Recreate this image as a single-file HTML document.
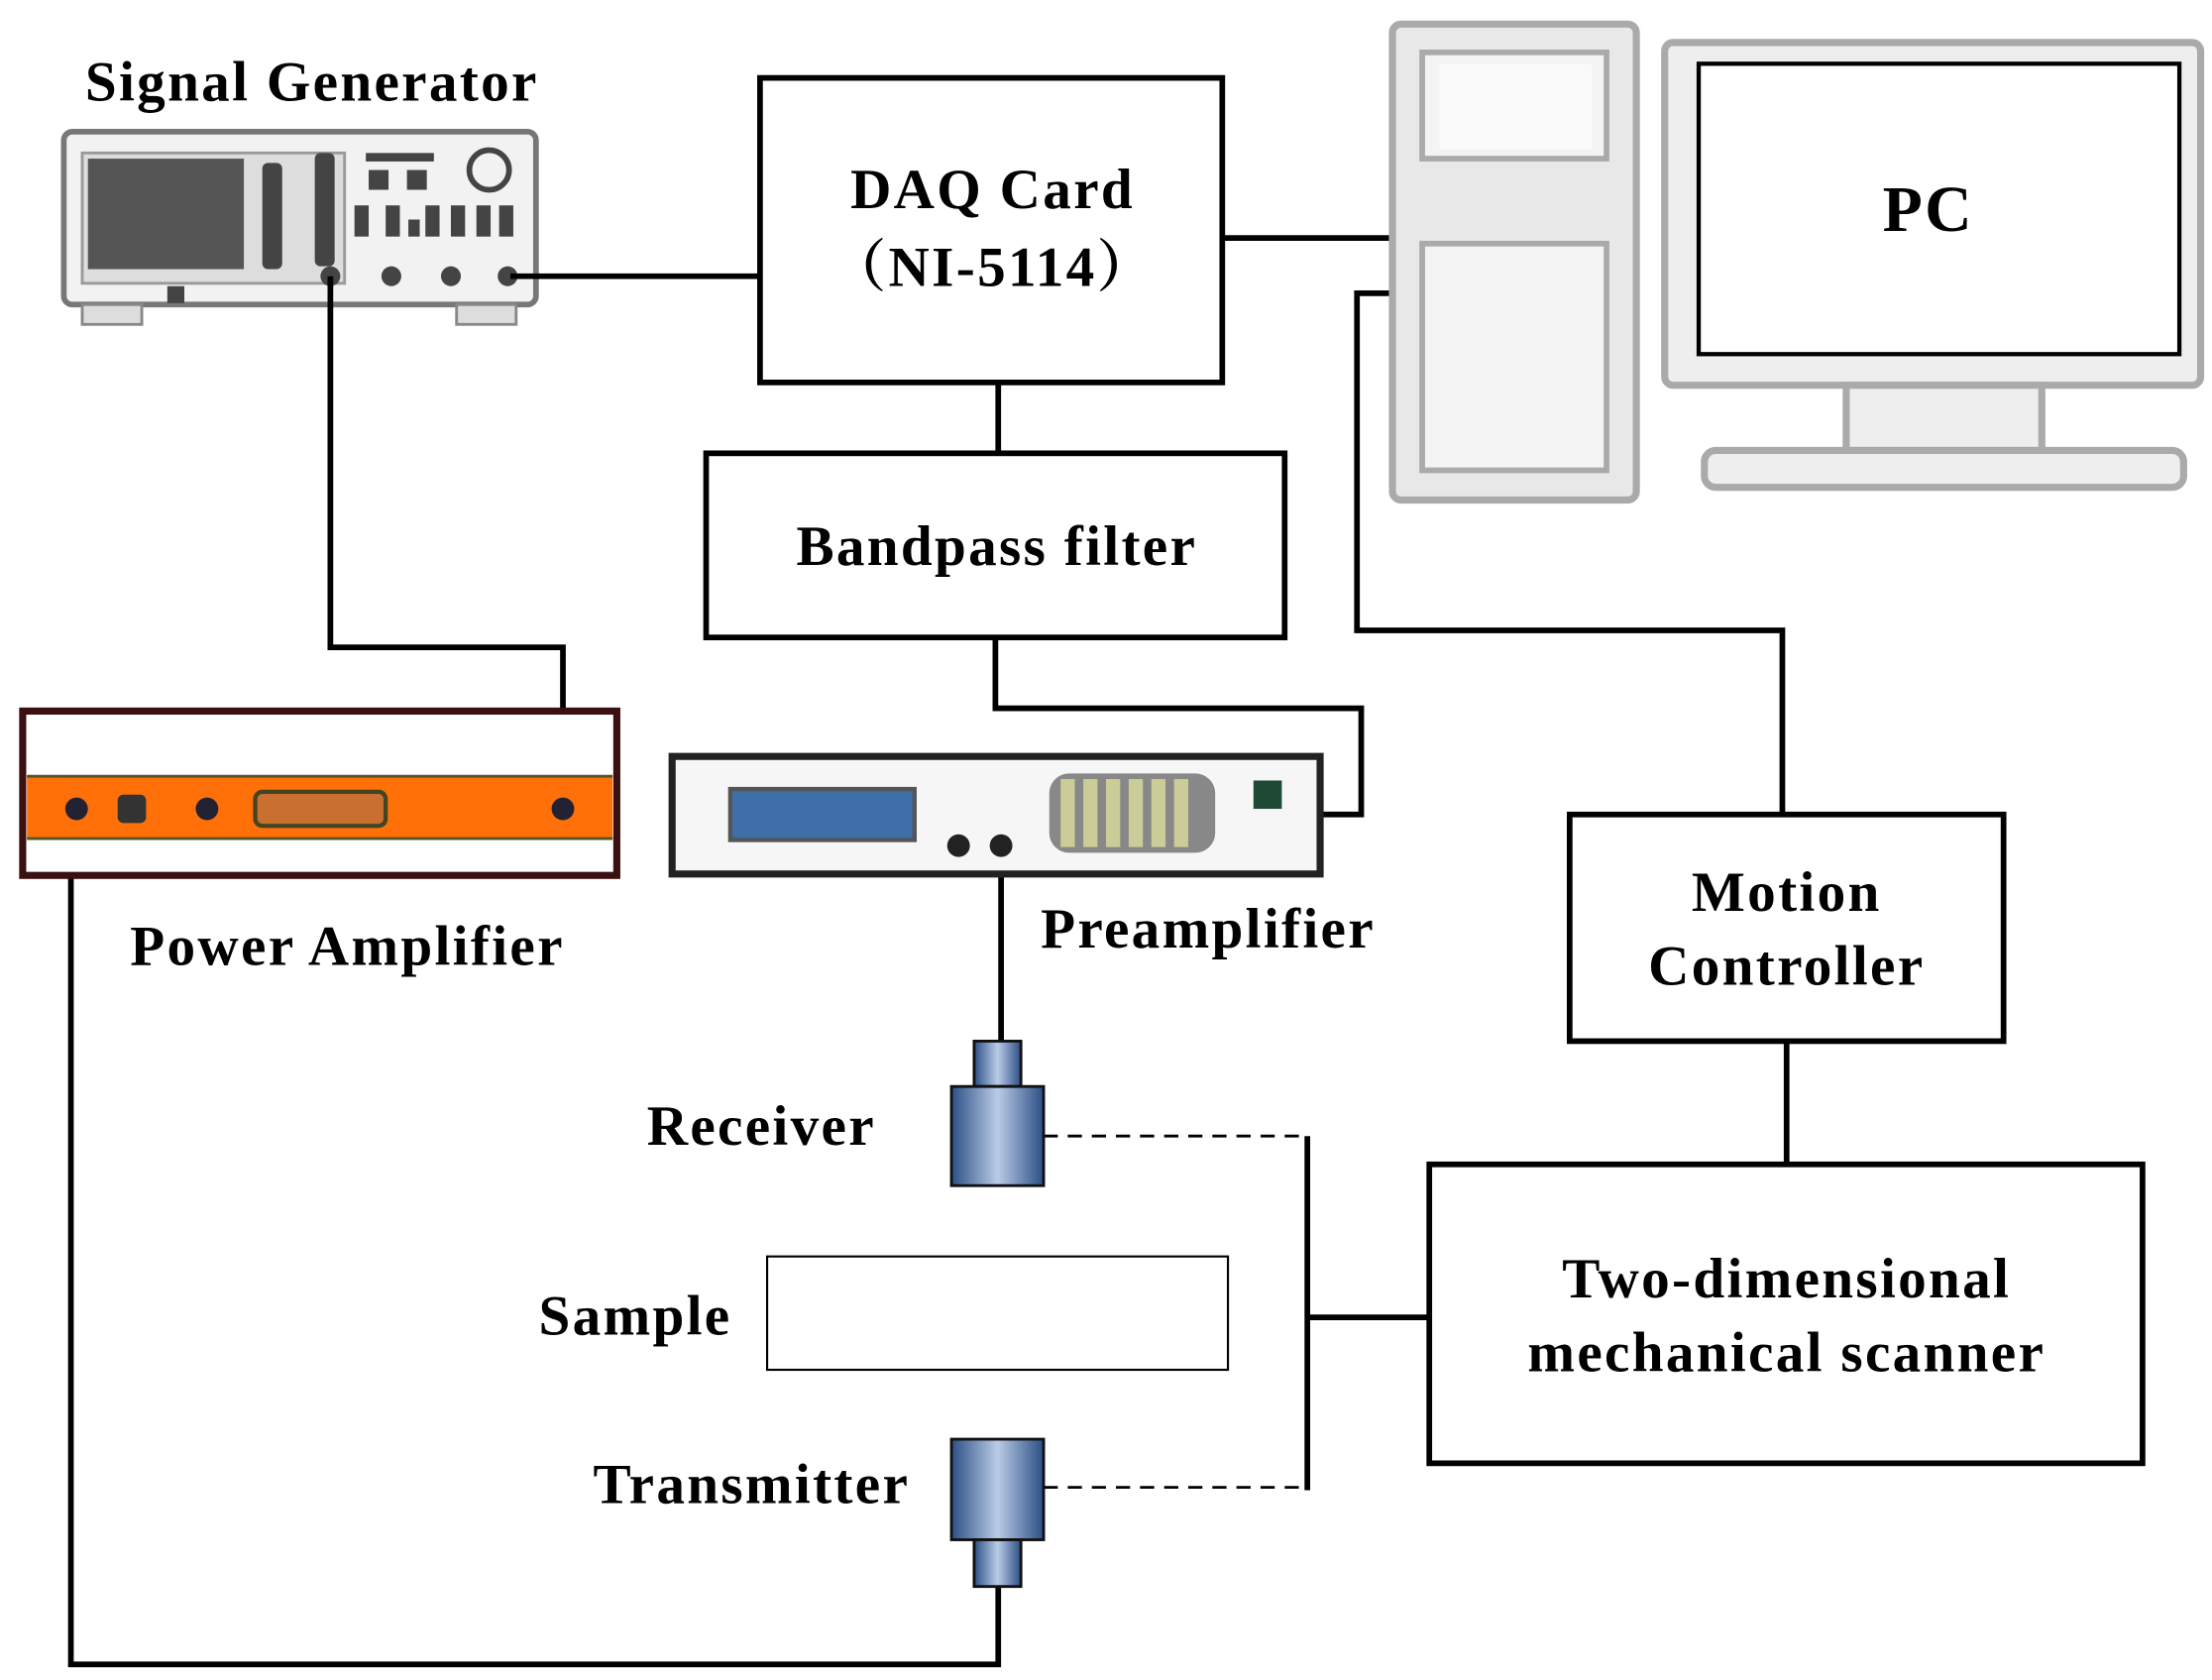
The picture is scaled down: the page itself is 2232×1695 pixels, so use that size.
<!DOCTYPE html>
<html><head><meta charset="utf-8"><style>
html,body{margin:0;padding:0;background:#fff;}
svg{display:block;}
text{font-family:"Liberation Serif","Noto Serif CJK SC",serif;font-weight:bold;fill:#000;text-anchor:middle;letter-spacing:1.6px;}
</style></head><body>
<svg width="2232" height="1695" viewBox="0 0 1560 1186" preserveAspectRatio="none" xmlns="http://www.w3.org/2000/svg">
<defs>
<linearGradient id="cyl" x1="0" x2="1" y1="0" y2="0">
<stop offset="0" stop-color="#2c4f86"/><stop offset="0.5" stop-color="#b9cbe6"/><stop offset="1" stop-color="#2c4f86"/>
</linearGradient>
</defs>
<text x="220" y="71" font-size="40">Signal Generator</text>
<rect x="45" y="93" width="333" height="122" rx="6" fill="#f2f2f2" stroke="#777" stroke-width="4"/>
<rect x="58" y="108" width="185" height="92" fill="#ddd" stroke="#999" stroke-width="2"/>
<rect x="62" y="112" width="110" height="78" fill="#555"/>
<g fill="#444">
<rect x="185" y="115" width="14" height="75" rx="4"/>
<rect x="222" y="108" width="14" height="80" rx="4"/>
<rect x="258" y="108" width="48" height="6"/>
<rect x="260" y="120" width="14" height="14"/><rect x="287" y="120" width="14" height="14"/>
<rect x="250" y="145" width="10" height="22"/><rect x="272" y="145" width="10" height="22"/><rect x="288" y="155" width="8" height="12"/>
<rect x="300" y="145" width="10" height="22"/><rect x="318" y="145" width="10" height="22"/><rect x="336" y="145" width="10" height="22"/><rect x="352" y="145" width="10" height="22"/>
<circle cx="233" cy="195" r="7"/><circle cx="276" cy="195" r="7"/><circle cx="318" cy="195" r="7"/><circle cx="358" cy="195" r="7"/>
<rect x="118" y="202" width="12" height="12"/>
</g>
<circle cx="345" cy="120" r="14" fill="none" stroke="#444" stroke-width="4"/>
<rect x="58" y="215" width="42" height="14" fill="#ddd" stroke="#888" stroke-width="2"/>
<rect x="322" y="215" width="42" height="14" fill="#ddd" stroke="#888" stroke-width="2"/>
<g fill="none" stroke="#000" stroke-width="4">
<rect x="536" y="55" width="326" height="215"/>
<rect x="498" y="320" width="408" height="130"/>
<rect x="1107" y="575" width="306" height="160"/>
<rect x="1008" y="822" width="503" height="211"/>
<polyline points="360,195 536,195"/>
<polyline points="862,168 982,168"/>
<polyline points="982,207 957,207 957,445 1257,445 1257,575"/>
<polyline points="704,270 704,320"/>
<polyline points="702,450 702,500 960,500 960,575 932,575"/>
<polyline points="233,195 233,457 397,457 397,570"/>
<polyline points="50,570 50,1175 704,1175 704,1120"/>
<polyline points="706,597 706,735"/>
<polyline points="1260,735 1260,822"/>
<polyline points="922,802 922,1052"/>
<polyline points="922,930 1008,930"/>
</g>
<g fill="none" stroke="#000" stroke-width="2" stroke-dasharray="10,7">
<line x1="736" y1="802" x2="922" y2="802"/>
<line x1="736" y1="1050" x2="922" y2="1050"/>
</g>
<text x="700" y="147" font-size="40">DAQ Card</text>
<text x="700" y="202" font-size="40">（NI-5114）</text>
<text x="703" y="399" font-size="40">Bandpass filter</text>
<text x="1260" y="643" font-size="40">Motion</text>
<text x="1260" y="695" font-size="40">Controller</text>
<text x="1260" y="916" font-size="40">Two-dimensional</text>
<text x="1260" y="968" font-size="40">mechanical scanner</text>
<rect x="982" y="17" width="172" height="336" rx="6" fill="#e8e8e8" stroke="#aaa" stroke-width="5"/>
<rect x="1003" y="37" width="130" height="75" fill="#f4f4f4" stroke="#aaa" stroke-width="4"/>
<rect x="1003" y="172" width="130" height="160" fill="#f4f4f4" stroke="#aaa" stroke-width="4"/>
<rect x="1015" y="45" width="108" height="60" fill="#fafafa"/>
<rect x="1174" y="30" width="378" height="242" rx="6" fill="#eee" stroke="#aaa" stroke-width="5"/>
<rect x="1198" y="45" width="339" height="205" fill="#fff" stroke="#000" stroke-width="3"/>
<rect x="1302" y="272" width="138" height="46" fill="#eee" stroke="#aaa" stroke-width="5"/>
<rect x="1202" y="318" width="338" height="26" rx="8" fill="#eee" stroke="#aaa" stroke-width="5"/>
<text x="1360" y="163" font-size="46">PC</text>
<rect x="16" y="502" width="419" height="116" fill="#fff" stroke="#3a1010" stroke-width="5"/>
<rect x="19" y="548" width="413" height="44" fill="#ff7008"/>
<line x1="19" y1="548" x2="432" y2="548" stroke="#552" stroke-width="2"/>
<line x1="19" y1="592" x2="432" y2="592" stroke="#552" stroke-width="2"/>
<circle cx="54" cy="571" r="8" fill="#223"/>
<rect x="83" y="561" width="20" height="20" rx="4" fill="#333"/>
<circle cx="146" cy="571" r="8" fill="#223"/>
<rect x="180" y="559" width="92" height="24" rx="5" fill="#c97030" stroke="#442" stroke-width="3"/>
<circle cx="397" cy="571" r="8" fill="#223"/>
<text x="245" y="681" font-size="40">Power Amplifier</text>
<rect x="474" y="534" width="457" height="83" fill="#f6f6f6" stroke="#222" stroke-width="5"/>
<rect x="515" y="557" width="130" height="36" fill="#3f6fa8" stroke="#555" stroke-width="3"/>
<rect x="740" y="546" width="117" height="56" rx="14" fill="#888"/>
<g fill="#cc9">
<rect x="748" y="550" width="10" height="48"/><rect x="764" y="550" width="10" height="48"/><rect x="780" y="550" width="10" height="48"/><rect x="796" y="550" width="10" height="48"/><rect x="812" y="550" width="10" height="48"/><rect x="828" y="550" width="10" height="48"/>
</g>
<rect x="884" y="551" width="20" height="20" fill="#1e4a35"/>
<circle cx="676" cy="597" r="8" fill="#222"/>
<circle cx="706" cy="597" r="8" fill="#222"/>
<text x="852" y="669" font-size="40">Preamplifier</text>
<rect x="687" y="735" width="33" height="32" fill="url(#cyl)" stroke="#111" stroke-width="2"/>
<rect x="671" y="767" width="65" height="70" fill="url(#cyl)" stroke="#111" stroke-width="2"/>
<text x="537" y="808" font-size="40">Receiver</text>
<rect x="541" y="887" width="325" height="80" fill="#fff" stroke="#000" stroke-width="1.5"/>
<text x="448" y="942" font-size="40">Sample</text>
<rect x="671" y="1016" width="65" height="71" fill="url(#cyl)" stroke="#111" stroke-width="2"/>
<rect x="687" y="1087" width="33" height="33" fill="url(#cyl)" stroke="#111" stroke-width="2"/>
<text x="530" y="1061" font-size="40">Transmitter</text>
</svg>
</body></html>
